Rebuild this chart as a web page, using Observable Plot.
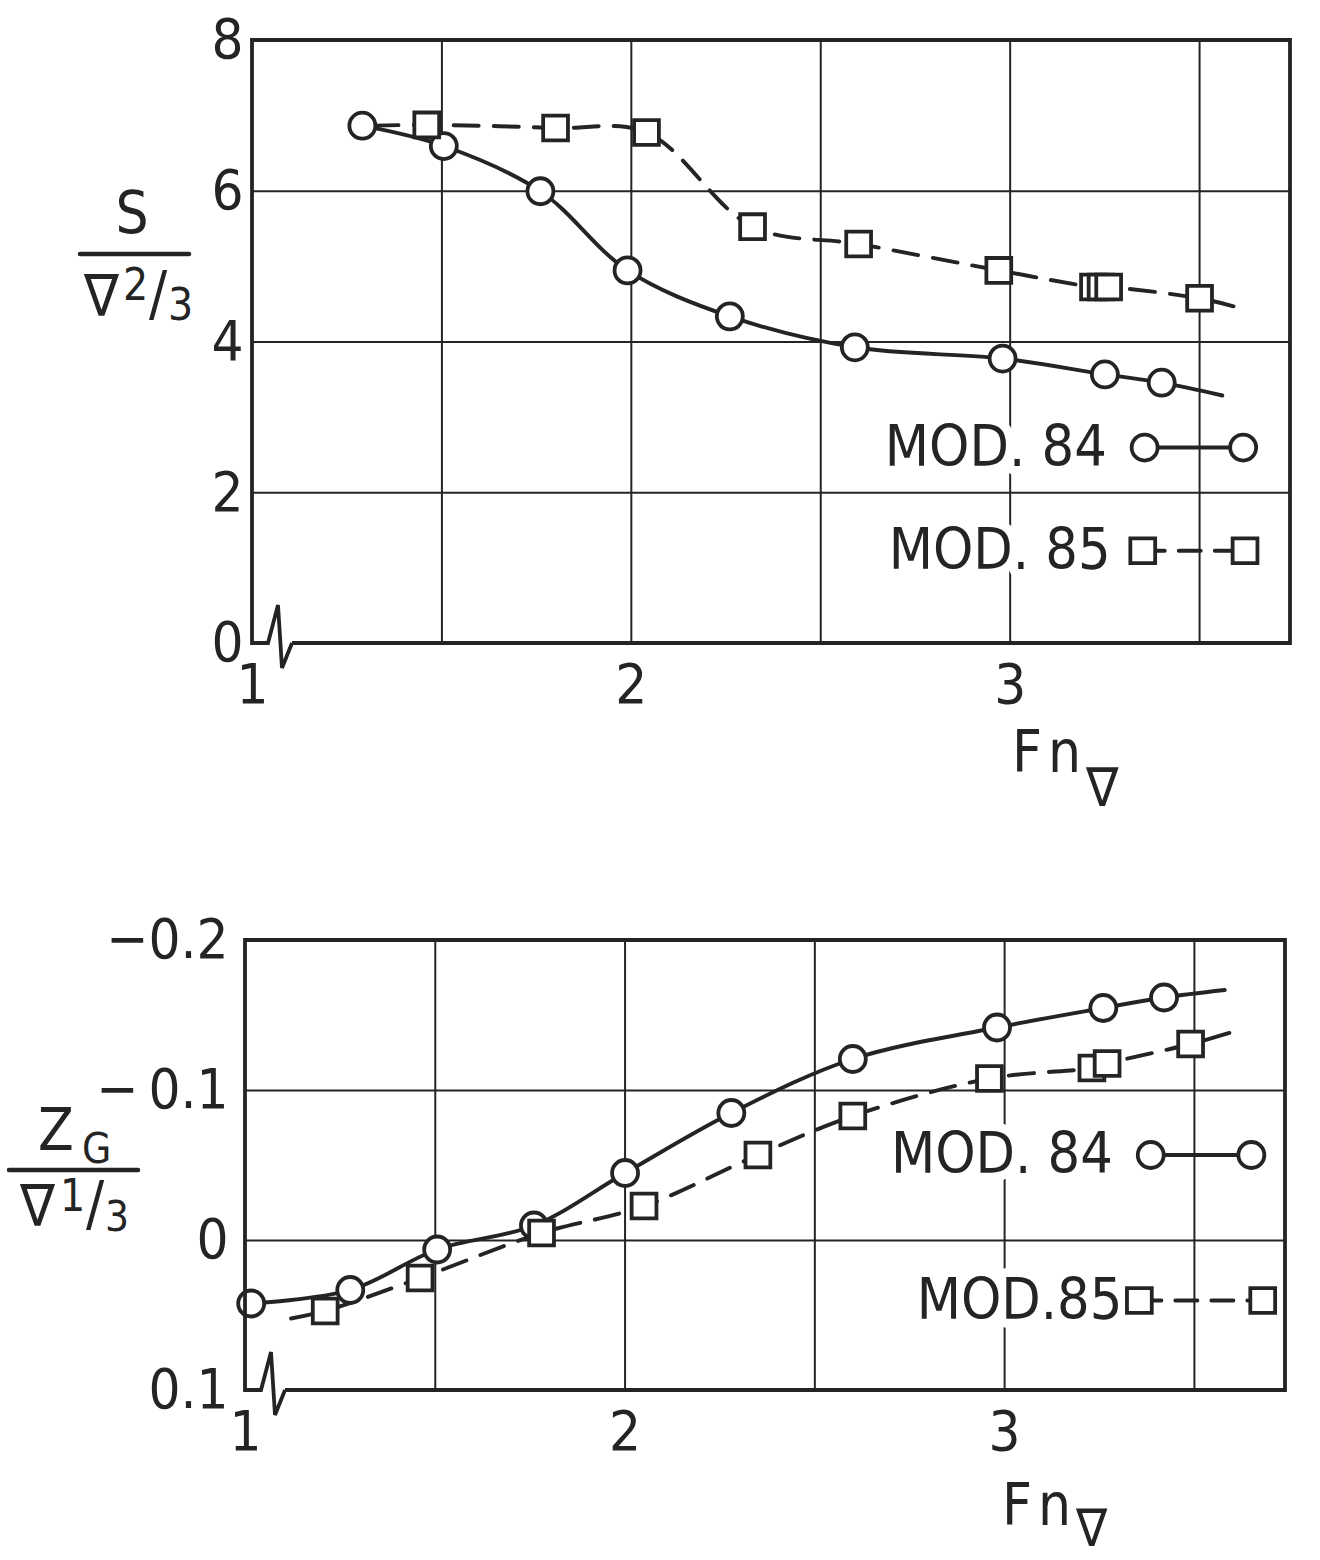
<!DOCTYPE html>
<html><head><meta charset="utf-8">
<script src="https://cdn.jsdelivr.net/npm/d3@7"></script>
<script src="https://cdn.jsdelivr.net/npm/@observablehq/plot@0.6"></script>
<style>
html,body{margin:0;padding:0;background:#fff;overflow:hidden;}
#wrap{width:1320px;height:1560px;position:relative;background:#fff;}
#wrap svg{display:block;}
</style></head><body><div id="wrap"></div>
<script>
// ---------- axis ticks / grid ----------
const fnTicks = [1, 2, 3];
const fnGrid = [1.5, 2, 2.5, 3, 3.5];
const sTicks = [0, 2, 4, 6, 8];
const sGrid = [2, 4, 6];
const zTicks = [0.1, 0, -0.1, -0.2];
const zTickLabels = ["0.1", "0", "−\u20090.1", "−0.2"];
const zGrid = [0, -0.1];
const seriesNames = ["MOD. 84", "MOD. 85"];
const seriesNamesBottom = ["MOD. 84", "MOD.85"];

// ---------- top panel: S / ∇^(2/3) ----------
const s84Fn = [1.29, 1.505, 1.76, 1.99, 2.26, 2.59, 2.98, 3.25, 3.40];
const s84Val = [6.87, 6.60, 6.00, 4.95, 4.34, 3.93, 3.78, 3.57, 3.46];
const s84LineEndFn = [3.56];
const s84LineEndVal = [3.29];

const s85Fn = [1.46, 1.80, 2.04, 2.32, 2.60, 2.97, 3.22, 3.24, 3.26, 3.50];
const s85Val = [6.88, 6.84, 6.78, 5.53, 5.30, 4.95, 4.73, 4.73, 4.73, 4.58];
const s85LineStartFn = [1.32];
const s85LineStartVal = [6.87];
const s85LineEndFn = [3.60];
const s85LineEndVal = [4.46];

// ---------- bottom panel: Z_G / ∇^(1/3) ----------
const z84Fn = [1.015, 1.276, 1.505, 1.76, 2.0, 2.28, 2.60, 2.98, 3.26, 3.42];
const z84Val = [0.042, 0.033, 0.006, -0.010, -0.045, -0.085, -0.121, -0.142, -0.155, -0.162];
const z84LineEndFn = [3.58];
const z84LineEndVal = [-0.167];

const z85Fn = [1.21, 1.46, 1.78, 2.05, 2.35, 2.60, 2.96, 3.23, 3.27, 3.49];
const z85Val = [0.047, 0.025, -0.005, -0.023, -0.057, -0.083, -0.108, -0.115, -0.118, -0.131];
const z85LineStartFn = [1.12];
const z85LineStartVal = [0.052];
const z85LineEndFn = [3.60];
const z85LineEndVal = [-0.139];

// ---------- styling / layout ----------
const ink = "#242424";
const FONT = "'DejaVu Sans Condensed', 'DejaVu Sans', sans-serif";
const W = 1320;

const pts = (xs, ys) => xs.map((x, i) => ({fn: x, v: ys[i]}));

function buildPanel(cfg) {
  const markers84 = pts(cfg.fn84, cfg.v84);
  const markers85 = pts(cfg.fn85, cfg.v85);
  const line84 = [...markers84, ...pts(cfg.end84Fn, cfg.end84V)];
  const line85 = [...pts(cfg.start85Fn, cfg.start85V), ...markers85, ...pts(cfg.end85Fn, cfg.end85V)];
  const lg = cfg.legend;
  const lg84 = [{fn: lg.sym[0], v: lg.y[0]}, {fn: lg.sym[1], v: lg.y[0]}];
  const lg85 = [{fn: lg.sym85[0], v: lg.y[1]}, {fn: lg.sym85[1], v: lg.y[1]}];
  const lgText = [
    {fn: lg.text[0], v: lg.y[0], t: cfg.names[0]},
    {fn: lg.text[1], v: lg.y[1], t: cfg.names[1]}
  ];
  const svg = Plot.plot({
    width: W, height: cfg.height,
    marginLeft: cfg.ml, marginRight: cfg.mr, marginTop: cfg.mt, marginBottom: cfg.mb,
    x: {domain: cfg.xDomain},
    y: {domain: cfg.yDomain},
    style: {fontFamily: FONT, color: ink, background: "white", overflow: "visible"},
    marks: [
      Plot.gridX(fnGrid, {stroke: ink, strokeOpacity: 1, strokeWidth: 2}),
      Plot.gridY(cfg.yGrid, {stroke: ink, strokeOpacity: 1, strokeWidth: 2}),
      Plot.axisX(fnTicks, {tickSize: 0, tickPadding: cfg.xPad, fontSize: 56, fill: ink, label: null,
        tickFormat: d => String(d)}),
      Plot.axisY(cfg.yTicks, {tickSize: 0, tickPadding: cfg.yPad, fontSize: 56, fill: ink, label: null,
        tickFormat: cfg.yFormat}),
      Plot.text(lgText, {x: "fn", y: "v", text: "t", textAnchor: "end", fontSize: 57, fill: ink,
        stroke: "white", strokeWidth: 18, paintOrder: "stroke"}),
      Plot.line(line84, {x: "fn", y: "v", curve: "catmull-rom", stroke: ink, strokeWidth: 3.9}),
      Plot.line(line85, {x: "fn", y: "v", curve: "catmull-rom", stroke: ink, strokeWidth: 3.9, strokeDasharray: "25,15"}),
      Plot.dot(markers84, {x: "fn", y: "v", symbol: "circle", r: 13, fill: "white", stroke: ink, strokeWidth: 3.8}),
      Plot.dot(markers85, {x: "fn", y: "v", symbol: "square", r: 14, fill: "white", stroke: ink, strokeWidth: 3.8}),
      Plot.line(lg84, {x: "fn", y: "v", stroke: ink, strokeWidth: 3.9}),
      Plot.line(lg85, {x: "fn", y: "v", stroke: ink, strokeWidth: 3.9, strokeDasharray: "22,14"}),
      Plot.dot(lg84, {x: "fn", y: "v", symbol: "circle", r: 13, fill: "white", stroke: ink, strokeWidth: 3.8}),
      Plot.dot(lg85, {x: "fn", y: "v", symbol: "square", r: 14, fill: "white", stroke: ink, strokeWidth: 3.8})
    ]
  });
  const [x0, x1] = svg.scale("x").range;
  const yr = svg.scale("y").range;
  const yb = Math.max(...yr), yt = Math.min(...yr);
  d3.select(svg).append("path")
    .attr("d", `M${x0 + 40},${yb} H${x1} V${yt} H${x0} V${yb} H${x0 + 16} L${x0 + 26},${yb - 38} L${x0 + 30},${yb + 25} L${x0 + 40},${yb}`)
    .attr("fill", "none").attr("stroke", ink).attr("stroke-width", 3.8).attr("stroke-linejoin", "miter");
  return svg;
}

// one <text> made of absolutely placed pieces: [str, x, y, size, letterSpacing]
function addPieces(s, pieces, anchor = "start") {
  const t = s.append("text").attr("font-family", FONT).attr("fill", ink).attr("text-anchor", anchor);
  for (const [str, x, y, size, ls] of pieces) {
    const sp = t.append("tspan").attr("x", x).attr("y", y).attr("font-size", size).text(str);
    if (ls) sp.attr("letter-spacing", ls);
  }
  return t;
}

const wrap = document.getElementById("wrap");

const topSvg = buildPanel({
  height: 820, ml: 252, mr: 30, mt: 40, mb: 177,
  xDomain: [1, 3.74], yDomain: [0, 8],
  yGrid: sGrid, yTicks: sTicks, yPad: 9, xPad: 20,
  yFormat: d => String(d),
  fn84: s84Fn, v84: s84Val, end84Fn: s84LineEndFn, end84V: s84LineEndVal,
  fn85: s85Fn, v85: s85Val, start85Fn: s85LineStartFn, start85V: s85LineStartVal,
  end85Fn: s85LineEndFn, end85V: s85LineEndVal,
  names: seriesNames,
  legend: {text: [3.255, 3.265], y: [2.6, 1.23], sym: [3.355, 3.615], sym85: [3.35, 3.62]}
});
wrap.appendChild(topSvg);
{
  const s = d3.select(topSvg);
  addPieces(s, [["S", 132, 233, 58]], "middle");
  s.append("line").attr("x1", 80).attr("x2", 189).attr("y1", 254).attr("y2", 254)
    .attr("stroke", ink).attr("stroke-width", 4.5).attr("stroke-linecap", "round");
  addPieces(s, [["∇", 84, 316, 58], ["2", 123, 300, 44], ["/", 149, 314, 60], ["3", 168, 320, 44]]);
  addPieces(s, [["Fn", 1012, 772, 58, 6], ["∇", 1086, 806, 54]]);
}

const bottomSvg = buildPanel({
  height: 740, ml: 245, mr: 35, mt: 120, mb: 170,
  xDomain: [1, 3.74], yDomain: [0.1, -0.2],
  yGrid: zGrid, yTicks: zTicks, yPad: 17, xPad: 20,
  yFormat: d => zTickLabels[zTicks.indexOf(d)],
  fn84: z84Fn, v84: z84Val, end84Fn: z84LineEndFn, end84V: z84LineEndVal,
  fn85: z85Fn, v85: z85Val, start85Fn: z85LineStartFn, start85V: z85LineStartVal,
  end85Fn: z85LineEndFn, end85V: z85LineEndVal,
  names: seriesNamesBottom,
  legend: {text: [3.285, 3.31], y: [-0.057, 0.04], sym: [3.385, 3.65], sym85: [3.355, 3.68]}
});
wrap.appendChild(bottomSvg);
{
  const s = d3.select(bottomSvg);
  addPieces(s, [["Z", 38, 330, 58], ["G", 82, 343, 42]]);
  s.append("line").attr("x1", 9).attr("x2", 138).attr("y1", 350).attr("y2", 350)
    .attr("stroke", ink).attr("stroke-width", 4.5).attr("stroke-linecap", "round");
  addPieces(s, [["∇", 20, 406, 58], ["1", 60, 391, 44], ["/", 86, 404, 60], ["3", 105, 411, 42]]);
  addPieces(s, [["Fn", 1002, 705, 58, 6], ["∇", 1076, 726, 52]]);
}
</script></body></html>
